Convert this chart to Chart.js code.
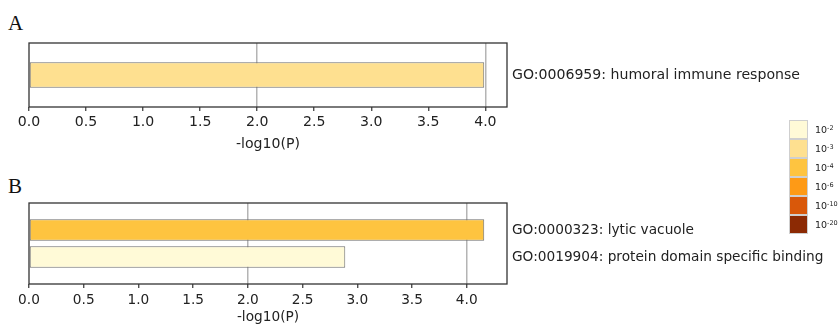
<!DOCTYPE html>
<html><head><meta charset="utf-8">
<script src="https://cdn.jsdelivr.net/npm/chart.js@4/dist/chart.umd.min.js"></script>
<style>
html,body{margin:0;padding:0;background:#fff;width:838px;height:326px;overflow:hidden;}
canvas{position:absolute;left:0;}
#cA{top:0px;}
#cB{top:160px;}
.panel{position:absolute;font-family:"Liberation Serif","DejaVu Serif",serif;font-size:21px;line-height:1;color:#111;}
#legend{position:absolute;left:789px;top:120px;font-family:"DejaVu Sans",sans-serif;}
.row{height:19px;position:relative;}
.sw{position:absolute;left:0;top:0;width:19px;height:19px;box-sizing:border-box;border:1px solid #cfcfcf;}
.lb{position:absolute;left:26px;top:5px;font-size:9.5px;line-height:10px;color:#222;white-space:nowrap;}
.lb sup{font-size:6.5px;vertical-align:top;position:relative;top:-2px;}
</style></head>
<body>
<div class="panel" style="left:8px;top:13px;">A</div>
<div class="panel" style="left:8px;top:176px;">B</div>
<canvas id="cA" width="838" height="160"></canvas>
<canvas id="cB" width="838" height="166"></canvas>
<div id="legend"></div>
<script>
// ---- data ----
const termsA = ['GO:0006959: humoral immune response'];
const valuesA = [3.99];
const termsB = ['GO:0000323: lytic vacuole', 'GO:0019904: protein domain specific binding'];
const valuesB = [4.16, 2.89];
const xTickLabels = ['0.0','0.5','1.0','1.5','2.0','2.5','3.0','3.5','4.0'];
const axisTitle = '-log10(P)';
const legendExps = ['-2','-3','-4','-6','-10','-20'];
const legendThresholds = [2, 3, 4, 6, 10, 20];
const legendColors = ['#FFFAD7','#FEE090','#FEC440','#FE9A16','#D9580A','#8C2A04'];

// ---- legend ----
const lg = document.getElementById('legend');
legendExps.forEach((e, i) => {
  const r = document.createElement('div'); r.className = 'row';
  const s = document.createElement('div'); s.className = 'sw'; s.style.background = legendColors[i];
  const l = document.createElement('div'); l.className = 'lb';
  l.innerHTML = '10<sup>' + e + '</sup>';
  r.appendChild(s); r.appendChild(l); lg.appendChild(r);
});

function colorFor(v) {
  let idx = 0;
  legendThresholds.forEach((t, i) => { if (v >= t) idx = i; });
  return legendColors[idx];
}

const boxPlugin = {
  id: 'box',
  afterDatasetsDraw(chart) {
    const {ctx, chartArea: a} = chart;
    ctx.save();
    ctx.strokeStyle = '#333';
    ctx.lineWidth = 1.3;
    ctx.strokeRect(a.left, a.top, a.right - a.left, a.bottom - a.top);
    ctx.restore();
  }
};

function makePanel(id, terms, values, o) {
  const labels = [''].concat(terms, ['']);
  const data = [null].concat(values, [null]);
  const colors = [null].concat(values.map(colorFor), [null]);
  const xMax = Math.max(...values) * 1.05;
  const font = {family: 'DejaVu Sans', size: o.fs};
  return new Chart(document.getElementById(id), {
    type: 'bar',
    data: {labels, datasets: [{data, backgroundColor: colors, borderColor: '#6e6e6e', borderWidth: 1,
      borderSkipped: false, barPercentage: 0.8, categoryPercentage: 1.0}]},
    options: {
      indexAxis: 'y', responsive: false, animation: false, devicePixelRatio: 1,
      layout: {padding: {top: o.top, left: 29, right: 0, bottom: 0}},
      plugins: {legend: {display: false}, tooltip: {enabled: false}},
      scales: {
        x: {
          type: 'linear', min: 0, max: xMax, position: 'bottom',
          afterBuildTicks: s => { s.ticks = xTickLabels.map(t => ({value: parseFloat(t)})); },
          afterFit: s => { s.height = o.axisH; },
          grid: {
            color: c => (c.tick && c.tick.value > 0 && Math.abs(c.tick.value % 2) < 1e-6) ? '#b4b4b4' : 'rgba(0,0,0,0)',
            lineWidth: 1.5, tickColor: '#333', tickWidth: 1.2, tickLength: 4, drawTicks: true
          },
          border: {display: false},
          ticks: {callback: v => Number(v).toFixed(1), padding: o.tickPad, color: '#222', font, maxRotation: 0, autoSkip: false},
          title: {display: true, text: axisTitle, color: '#222', font: {family: 'DejaVu Sans', size: o.fs, lineHeight: 1.2},
            padding: {top: 0, bottom: o.titlePad}}
        },
        y: {
          type: 'category', position: 'right', offset: false,
          grid: {display: false, drawTicks: false, tickLength: 0, offset: false}, border: {display: false},
          afterFit: s => { s.width = 838 - 507; },
          ticks: {padding: 5, color: '#222', font, autoSkip: false}
        }
      }
    },
    plugins: [boxPlugin]
  });
}

makePanel('cA', termsA, valuesA, {fs: 14.1, top: 43, axisH: 53, tickPad: 3, titlePad: 7.5});
makePanel('cB', termsB, valuesB, {fs: 13.7, top: 43, axisH: 42, tickPad: 4, titlePad: 0});
</script>
</body></html>
